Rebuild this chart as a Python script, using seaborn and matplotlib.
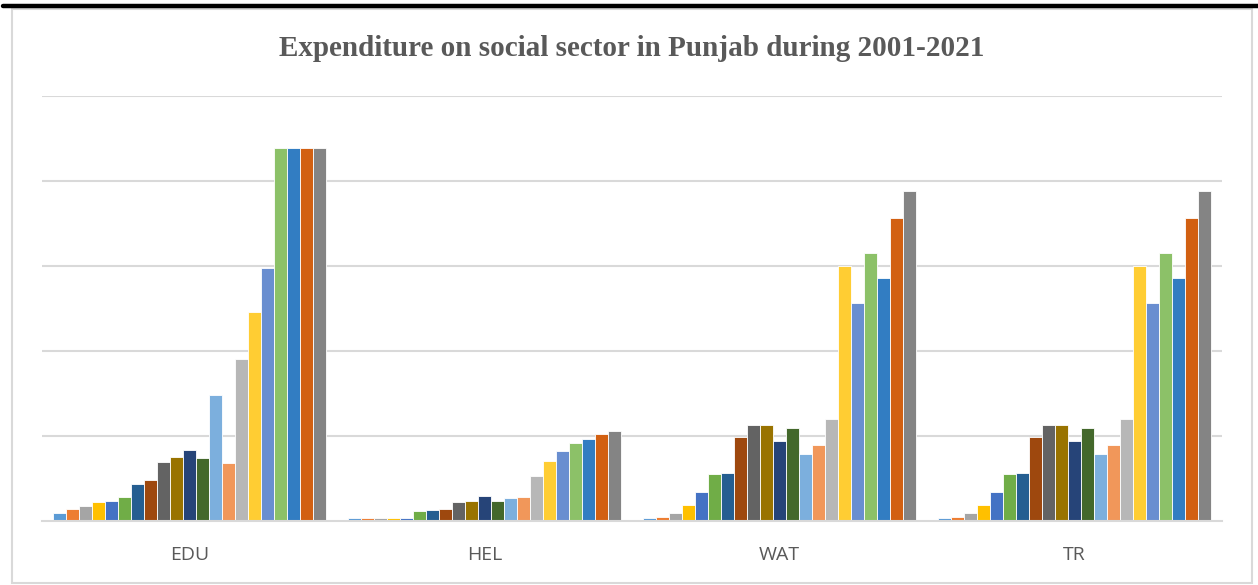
import numpy as np
import pandas as pd
import matplotlib
matplotlib.use("Agg")
import matplotlib.pyplot as plt
import seaborn as sns
from matplotlib.patches import Rectangle
from matplotlib.lines import Line2D

# ---- data (units: gridline steps) ----
categories = ["EDU", "HEL", "WAT", "TR"]
years = [str(y) for y in range(2001, 2022)]
edu = [0.10, 0.14, 0.18, 0.22, 0.24, 0.28, 0.43, 0.48, 0.69, 0.75, 0.84, 0.74,
       1.48, 0.68, 1.91, 2.46, 2.98, 4.39, 4.39, 4.39, 4.39]
hel = [0.035, 0.035, 0.035, 0.03, 0.035, 0.12, 0.13, 0.14, 0.22, 0.24, 0.29, 0.235,
       0.27, 0.28, 0.53, 0.71, 0.82, 0.92, 0.97, 1.02, 1.06]
wat = [0.035, 0.045, 0.09, 0.19, 0.34, 0.55, 0.56, 0.99, 1.13, 1.13, 0.94, 1.10,
       0.79, 0.90, 1.20, 3.00, 2.56, 3.15, 2.86, 3.57, 3.88]
tr = [0.035, 0.045, 0.09, 0.19, 0.34, 0.55, 0.56, 0.99, 1.13, 1.13, 0.94, 1.10,
      0.79, 0.90, 1.20, 3.00, 2.56, 3.15, 2.86, 3.57, 3.88]
colors = ["#5B9BD5", "#ED7D31", "#A5A5A5", "#FFC000", "#4472C4", "#70AD47",
          "#255E91", "#9E480E", "#636363", "#997300", "#264478", "#43682B",
          "#7CAFDD", "#F1975A", "#B7B7B7", "#FFCD33", "#698ED0", "#8CC168",
          "#327DC2", "#D26012", "#848484"]
title = "Expenditure on social sector in Punjab during 2001-2021"

series = {"EDU": edu, "HEL": hel, "WAT": wat, "TR": tr}
rows = []
for c in categories:
    for y, v in zip(years, series[c]):
        rows.append({"cat": c, "year": y, "value": v})
df = pd.DataFrame(rows)

sns.set_theme(style="white")
W, H = 1258, 585
fig = plt.figure(figsize=(W / 100, H / 100), dpi=100)
fig.patch.set_facecolor("white")

ax = fig.add_axes([42 / W, (H - 521) / H, (1222 - 42) / W, (521 - 96) / H])
sns.barplot(data=df, x="cat", y="value", hue="year", palette=colors,
            order=categories, hue_order=years, width=0.925, ax=ax,
            edgecolor="white", linewidth=0.6, saturation=1, legend=False,
            errorbar=None)
ax.set_ylim(0, 5)
ax.set_xlim(-0.5, 3.5)
ax.set_yticks([1, 2, 3, 4, 5])
ax.yaxis.grid(True, color="#D9D9D9", linewidth=1.5)
ax.set_axisbelow(True)
ax.tick_params(axis="y", left=False, labelleft=False)
ax.tick_params(axis="x", bottom=False, labelsize=14, labelcolor="#595959", pad=12)
for lab in ax.get_xticklabels():
    lab.set_fontfamily("Open Sans")
ax.set_xlabel("")
ax.set_ylabel("")
for s in ["top", "right", "left"]:
    ax.spines[s].set_visible(False)
ax.spines["bottom"].set_color("#D9D9D9")
ax.spines["bottom"].set_linewidth(1.5)

# chart border and top rule
fig.patches.append(Rectangle((12 / W, 2 / H), (1252 - 12) / W, (H - 9 - 2) / H,
                             transform=fig.transFigure, fill=False,
                             edgecolor="#D9D9D9", linewidth=1.5))
fig.lines.append(Line2D([3 / W, 1], [1 - 6 / H, 1 - 6 / H], transform=fig.transFigure,
                        color="black", linewidth=3.2))

fig.text(632 / W, 1 - 48 / H, title, ha="center", va="center",
         fontsize=21, fontweight="bold", color="#595959",
         fontfamily="Liberation Serif")

fig.savefig("out.png", dpi=100)
